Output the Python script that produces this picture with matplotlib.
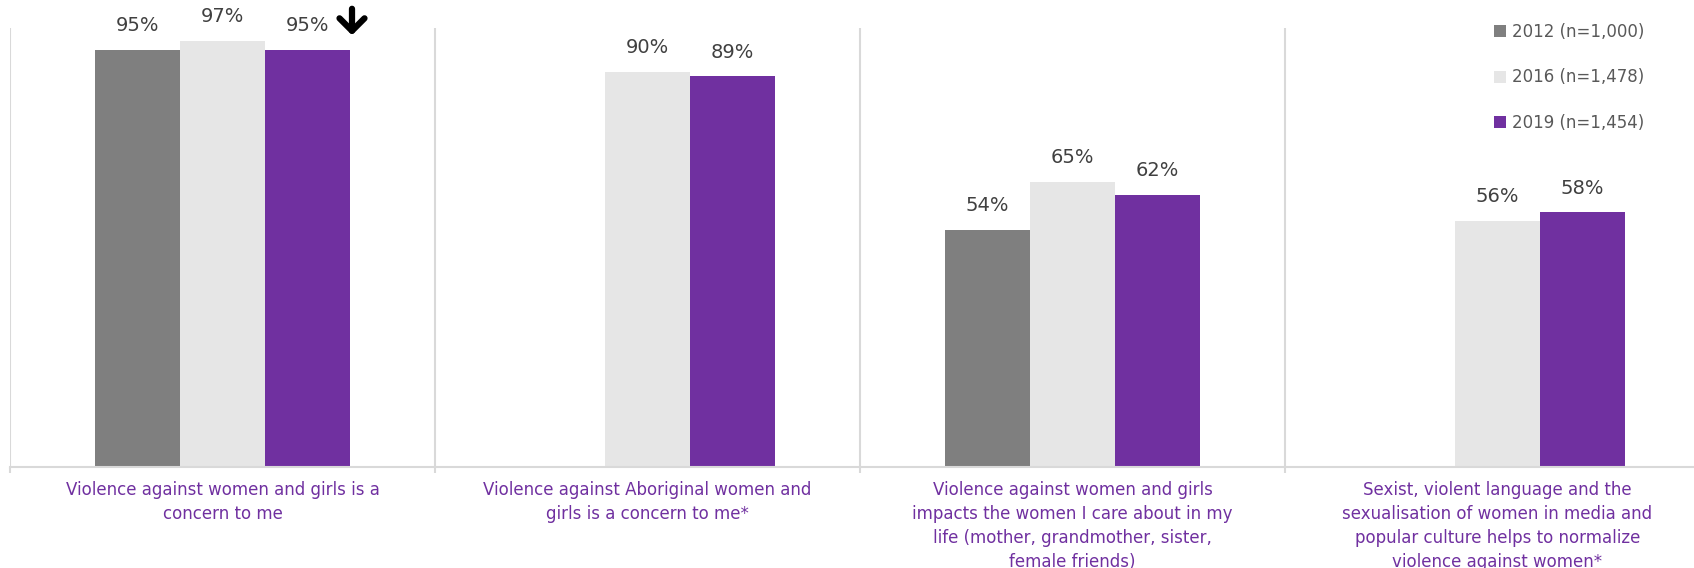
import matplotlib
matplotlib.use("Agg")
import matplotlib.pyplot as plt
import numpy as np

categories = [
    "Violence against women and girls is a\nconcern to me",
    "Violence against Aboriginal women and\ngirls is a concern to me*",
    "Violence against women and girls\nimpacts the women I care about in my\nlife (mother, grandmother, sister,\nfemale friends)",
    "Sexist, violent language and the\nsexualisation of women in media and\npopular culture helps to normalize\nviolence against women*",
]
series_names = ["2012 (n=1,000)", "2016 (n=1,478)", "2019 (n=1,454)"]
values_2012 = [95, None, 54, None]
values_2016 = [97, 90, 65, 56]
values_2019 = [95, 89, 62, 58]
colors = ["#7f7f7f", "#e6e6e6", "#7030a0"]

W, H = 1694, 568
fig = plt.figure(figsize=(W / 100, H / 100), dpi=100)
ax = fig.add_axes([10 / W, (H - 467) / H, 1700 / W, 439 / H])

x = np.arange(len(categories))
bw = 0.2
offsets = [-bw, 0, bw]
all_series = [values_2012, values_2016, values_2019]
handles = []
for s, (vals, off, col, name) in enumerate(zip(all_series, offsets, colors, series_names)):
    xs = [xi + off for xi, v in zip(x, vals) if v is not None]
    vs = [v for v in vals if v is not None]
    bars = ax.bar(xs, vs, width=bw, color=col, label=name, zorder=3)
    handles.append(bars)
    for xi, v in zip(xs, vs):
        ax.annotate(f"{v}%", (xi, v), xytext=(0, 13.5), textcoords="offset points",
                    ha="center", va="baseline", fontsize=14, color="#404040")

ax.set_xlim(-0.5, len(categories) - 0.5)
ax.set_ylim(0, 100)
for b in np.arange(-0.5, len(categories), 1.0):
    ax.axvline(b, color="#d9d9d9", lw=1.5, zorder=1)
ax.set_xticks(x)
ax.set_xticklabels(categories, fontsize=12, color="#7030a0", linespacing=1.42)
ax.set_xticks(np.arange(-0.5, len(categories), 1.0), minor=True)
ax.tick_params(axis="x", which="major", length=0, pad=10)
ax.tick_params(axis="x", which="minor", length=4, width=1.5, color="#d9d9d9", direction="out")
ax.set_yticks([])
for sp in ["top", "right", "left"]:
    ax.spines[sp].set_visible(False)
ax.spines["bottom"].set_color("#d9d9d9")
ax.spines["bottom"].set_linewidth(1.5)
ax.spines["bottom"].set_zorder(4)

leg = fig.legend(handles=handles, labels=series_names, loc="upper left",
                 bbox_to_anchor=(1494 / W, 1 - 23 / H), bbox_transform=fig.transFigure,
                 frameon=False, fontsize=12, handlelength=0.7, handleheight=0.7,
                 handletextpad=0.35, labelspacing=1.65, borderpad=0, borderaxespad=0)
for t in leg.get_texts():
    t.set_color("#595959")

# down arrow marker near top of first group
ax.annotate("", xy=(352 / W, 1 - 38 / H), xytext=(352 / W, 1 - 6 / H),
            xycoords="figure fraction", textcoords="figure fraction",
            arrowprops=dict(arrowstyle="->,head_length=0.45,head_width=0.45",
                            lw=4.5, color="black", mutation_scale=20))

fig.savefig("out.png", dpi=100)
